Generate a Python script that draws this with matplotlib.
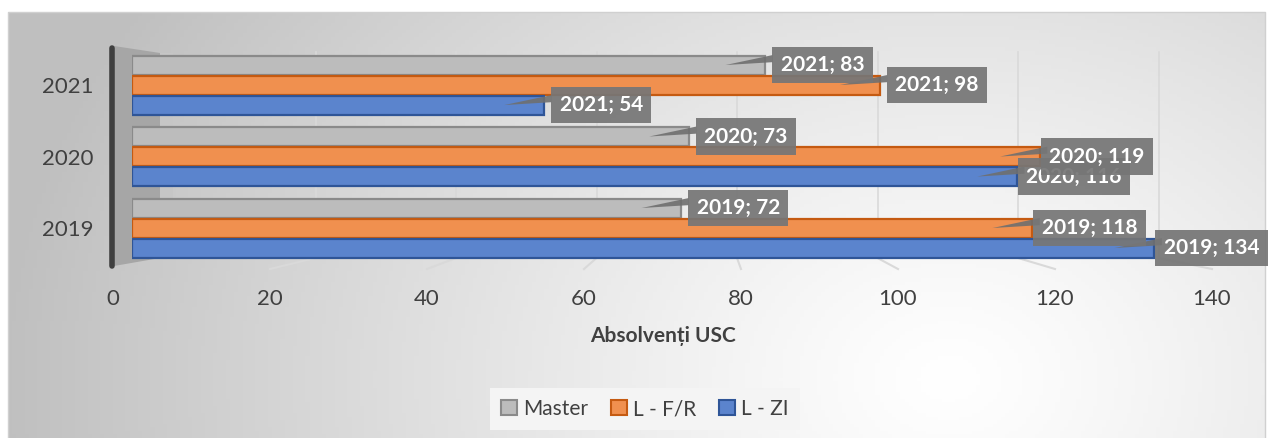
import numpy as np
import matplotlib.pyplot as plt
from matplotlib.patches import Patch, Polygon, Rectangle

plt.rcParams['font.family'] = ['Lato', 'DejaVu Sans']

# date
ani = ["2019", "2020", "2021"]
serii = ["Master", "L - F/R", "L - ZI"]
master = [72, 73, 83]
l_fr = [118, 119, 98]
l_zi = [134, 116, 54]
valori = [master, l_fr, l_zi]
taxe = [0, 20, 40, 60, 80, 100, 120, 140]

culori = ["#bcbcbc", "#f0904f", "#5b84cd"]
margini = ["#8a8a8a", "#c55a11", "#2f5597"]

W, H = 1272, 438
fig = plt.figure(figsize=(W / 100, H / 100), dpi=100)

# fundal cu gradient (coordonate pixel)
bg = fig.add_axes([0, 0, 1, 1])
bg.set_xlim(0, W)
bg.set_ylim(H, 0)
bg.axis("off")
xx, yy = np.meshgrid(np.linspace(8, 1265, 300), np.linspace(12, 438, 120))
r = np.sqrt((xx - 950) ** 2 + ((yy - 380) * 1.3) ** 2) / 950
r = np.clip(r, 0, 1)
g = 1 - 0.25 * r ** 1.2
bg.imshow(np.dstack([g, g, g]), extent=(8, 1265, 438, 12), aspect="auto", zorder=0)
bg.plot([8, 8, 1265, 1265], [438, 12, 12, 438], color="#d0d0d0", lw=1, zorder=1)

# perete stanga
bg.add_patch(Polygon([(114, 46), (160, 53), (160, 258), (114, 266)],
                     closed=True, fc="#a6a6a6", ec="none", zorder=2))
bg.add_patch(Rectangle((160, 53), 13, 205, fc="#c6c6c6", ec="none", zorder=2))
bg.plot([112, 112], [48, 266], color="#3f3f3f", lw=4, solid_capstyle="round", zorder=3)

# linii de grila pe peretele din spate si pe podea
for v in taxe[1:]:
    xb = 175 + 7.025 * v
    xf = 113 + 7.85 * v
    bg.plot([xb, xb], [52, 258], color="#d9d9d9", lw=1.2, zorder=2)
    bg.plot([xb, xf], [258, 269], color="#d9d9d9", lw=1.5, zorder=2)

# axa principala cu barele
ax = fig.add_axes([132 / W, (H - 275) / H, 1068 / W, 235 / H])
ax.patch.set_alpha(0)
ax.set_xlim(0, 140)
ax.set_ylim(-0.657, 2.63)
for s in ax.spines.values():
    s.set_visible(False)
ax.set_xticks([])

pas = 0.28
h = 0.266
y = np.arange(len(ani))
offs = [pas, 0, -pas]
for k in range(3):
    ax.barh(y + offs[k], valori[k], height=h, color=culori[k],
            edgecolor=margini[k], linewidth=1.6, zorder=3)

ax.set_yticks(y)
ax.set_yticklabels(ani, fontsize=16, color="#404040")
ax.tick_params(axis="y", length=0, pad=28)

# etichete de date (seria albastra dedesubt, gri deasupra)
for i in range(3):
    for k in range(3):
        v = valori[k][i]
        yc = y[i] + offs[k]
        z = 4 + (2 - k) * 0.5
        ax.add_patch(Polygon([(v - 5.2, yc), (v + 1.0, yc + 0.14), (v + 1.0, yc + 0.04)],
                             closed=True, fc="#6f6f6f", ec="none", alpha=0.9, zorder=z))
        ax.text(v + 7.5, yc, "%s; %d" % (ani[i], v), ha="center", va="center",
                fontsize=15, fontweight="bold", color="white", zorder=z + 0.1,
                bbox=dict(boxstyle="square,pad=0.4", fc="#767676", ec="none", alpha=0.93))

# axa de jos cu valorile
ax2 = fig.add_axes([113 / W, (H - 282) / H, 1099 / W, 0.001])
ax2.patch.set_alpha(0)
ax2.set_xlim(0, 140)
ax2.set_yticks([])
for s in ax2.spines.values():
    s.set_visible(False)
ax2.set_xticks(taxe)
ax2.tick_params(axis="x", length=0, pad=5, labelsize=16, labelcolor="#404040")
ax2.set_xlabel("Absolvenți USC", fontsize=15, fontweight="bold", color="#404040", labelpad=12)

handles = [Patch(fc=culori[k], ec=margini[k], lw=1.5) for k in range(3)]
leg = fig.legend(handles, serii, loc="center", bbox_to_anchor=(645 / W, 1 - 409 / H),
                 ncol=3, frameon=True, fancybox=False, fontsize=15,
                 handlelength=0.75, handleheight=0.75, handletextpad=0.3,
                 columnspacing=1.1, borderpad=0.55)
leg.get_frame().set_facecolor("#f4f4f4")
leg.get_frame().set_edgecolor("none")
leg.get_frame().set_alpha(1)
for t in leg.get_texts():
    t.set_color("#404040")

fig.savefig("out.png", dpi=100)
